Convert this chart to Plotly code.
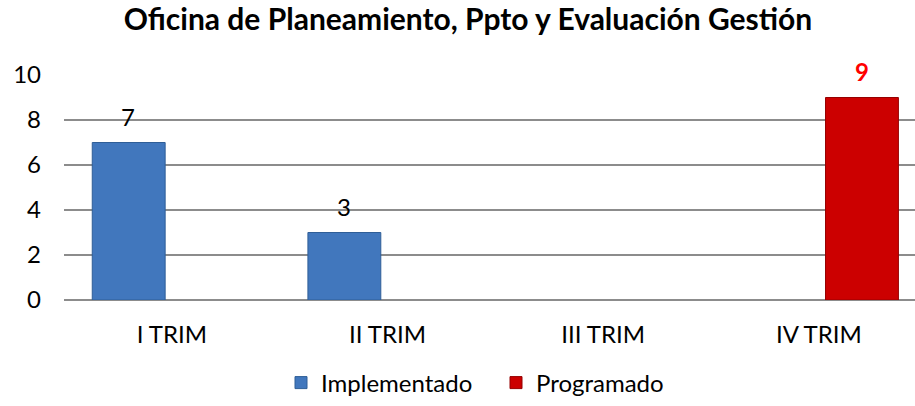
import plotly.graph_objects as go

categories = ["I TRIM", "II TRIM", "III TRIM", "IV TRIM"]
implementado = [7, 3, None, None]
programado = [None, None, None, 9]
y_ticks = [0, 2, 4, 6, 8, 10]
title_text = "Oficina de Planeamiento, Ppto y Evaluación Gestión"

FONT = "Lato, 'Open Sans', sans-serif"
BLUE = "#4177BD"
BLUE_EDGE = "#2F5E97"
RED = "#CC0000"
RED_EDGE = "#960000"

W, H = 915, 406
ML, MT = 64, 75
PLOT_BOTTOM = 300

fig = go.Figure()
fig.add_trace(go.Bar(
    name="Implementado", x=categories, y=implementado,
    marker=dict(color=BLUE, line=dict(color=BLUE_EDGE, width=1)),
))
fig.add_trace(go.Bar(
    name="Programado", x=categories, y=programado,
    marker=dict(color=RED, line=dict(color=RED_EDGE, width=1)),
))

for vals, shift, style in [
    (implementado, -43.5, dict(color="#000000", size=24, family=FONT)),
    (programado, 43.5, dict(color="#FF0000", size=24, family=FONT, weight="bold")),
]:
    for c, v in zip(categories, vals):
        if v is None:
            continue
        fig.add_annotation(
            x=c, y=v, xref="x", yref="y", text=str(v), showarrow=False,
            xshift=shift, yshift=26, yanchor="middle", font=style,
        )

cat_w = (819 - 172) / 3.0
plot_w = W - ML
fig.update_layout(
    width=W, height=H,
    margin=dict(l=ML, r=0, t=MT, b=H - PLOT_BOTTOM),
    paper_bgcolor="white", plot_bgcolor="white",
    barmode="group", bargap=0.2, bargroupgap=0.155,
    title=dict(text="<b>" + title_text + "</b>", x=468 / W, xanchor="center",
               y=1 - 19 / H, yanchor="middle",
               font=dict(family=FONT, size=30, color="#000000")),
    font=dict(family=FONT, size=24, color="#000000"),
    showlegend=True,
    legend=dict(orientation="h", x=(281 - ML) / plot_w, xanchor="left",
                y=-(383 - PLOT_BOTTOM) / (PLOT_BOTTOM - MT), yanchor="middle",
                font=dict(family=FONT, size=24, color="#000000"),
                itemwidth=30, entrywidth=170, entrywidthmode="pixels",
                traceorder="normal"),
)
fig.update_xaxes(
    type="category", range=[-0.5, -0.5 + plot_w / cat_w],
    showgrid=False, showline=False, ticks="", ticklabelstandoff=18,
    tickfont=dict(family=FONT, size=24, color="#000000"),
)
fig.update_yaxes(
    range=[0, 10], tickvals=y_ticks, showgrid=True, gridcolor="#8C8C8C",
    gridwidth=1.5, zeroline=True, zerolinecolor="#8C8C8C", zerolinewidth=1.5,
    showline=False, ticks="", ticklabelstandoff=22,
    tickfont=dict(family=FONT, size=24, color="#000000"),
)

# remove the default page margin so the figure sits at the window's corner
fig.write_html("out.html", config={"displayModeBar": False},
               post_script="document.body.style.margin='0';")
